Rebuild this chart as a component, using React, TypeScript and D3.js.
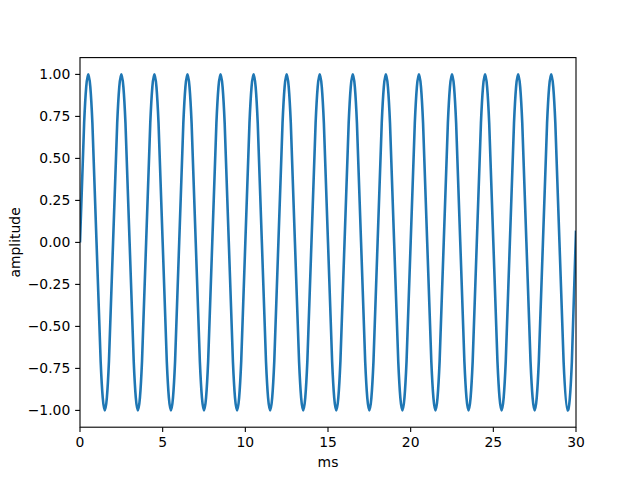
import React from "react";
import * as d3 from "d3";

// sample times in ms (every 0.25 ms)
const times = [
  0, 0.25, 0.5, 0.75, 1, 1.25, 1.5, 1.75, 2, 2.25, 2.5, 2.75, 3, 3.25, 3.5, 3.75,
  4, 4.25, 4.5, 4.75, 5, 5.25, 5.5, 5.75, 6, 6.25, 6.5, 6.75, 7, 7.25, 7.5, 7.75,
  8, 8.25, 8.5, 8.75, 9, 9.25, 9.5, 9.75, 10, 10.25, 10.5, 10.75, 11, 11.25, 11.5, 11.75,
  12, 12.25, 12.5, 12.75, 13, 13.25, 13.5, 13.75, 14, 14.25, 14.5, 14.75, 15, 15.25, 15.5, 15.75,
  16, 16.25, 16.5, 16.75, 17, 17.25, 17.5, 17.75, 18, 18.25, 18.5, 18.75, 19, 19.25, 19.5, 19.75,
  20, 20.25, 20.5, 20.75, 21, 21.25, 21.5, 21.75, 22, 22.25, 22.5, 22.75, 23, 23.25, 23.5, 23.75,
  24, 24.25, 24.5, 24.75, 25, 25.25, 25.5, 25.75, 26, 26.25, 26.5, 26.75, 27, 27.25, 27.5, 27.75,
  28, 28.25, 28.5, 28.75, 29, 29.25, 29.5, 29.75, 30,
];
const amplitude = [
  0, 0.71, 1, 0.71, 0, -0.71, -1, -0.71, 0, 0.71, 1, 0.71, 0, -0.71, -1, -0.71,
  0, 0.71, 1, 0.71, 0, -0.71, -1, -0.71, 0, 0.71, 1, 0.71, 0, -0.71, -1, -0.71,
  0, 0.71, 1, 0.71, 0, -0.71, -1, -0.71, 0, 0.71, 1, 0.71, 0, -0.71, -1, -0.71,
  0, 0.71, 1, 0.71, 0, -0.71, -1, -0.71, 0, 0.71, 1, 0.71, 0, -0.71, -1, -0.71,
  0, 0.71, 1, 0.71, 0, -0.71, -1, -0.71, 0, 0.71, 1, 0.71, 0, -0.71, -1, -0.71,
  0, 0.71, 1, 0.71, 0, -0.71, -1, -0.71, 0, 0.71, 1, 0.71, 0, -0.71, -1, -0.71,
  0, 0.71, 1, 0.71, 0, -0.71, -1, -0.71, 0, 0.71, 1, 0.71, 0, -0.71, -1, -0.71,
  0, 0.71, 1, 0.71, 0, -0.71, -1, -0.71, 0.07,
];
const xTicks = [0, 5, 10, 15, 20, 25, 30];
const yTicks = [-1, -0.75, -0.5, -0.25, 0, 0.25, 0.5, 0.75, 1];
const xLabel = "ms";
const yLabel = "amplitude";

export default function App() {
  const W = 640, H = 480;
  const L = 80, R = 576, T = 57.6, B = 427.2;
  const x = d3.scaleLinear().domain([0, 30]).range([L, R]);
  const y = d3.scaleLinear().domain([-1.1, 1.1]).range([B, T]);
  const pts = times.map((t, i) => [t, amplitude[i]] as [number, number]);
  const line = d3
    .line<[number, number]>()
    .x((d) => x(d[0]))
    .y((d) => y(d[1]))
    .curve(d3.curveNatural);
  const fmt = (v: number) => {
    const s = Math.abs(v).toFixed(2);
    return v < 0 ? "\u2212" + s : s;
  };
  const font = "DejaVu Sans, sans-serif";
  const fs = 13.9;
  const tick = 4.86;
  return (
    <svg
      width={W}
      height={H}
      style={{ position: "absolute", left: 0, top: 0, background: "#fff" }}
      fontFamily={font}
    >
      <rect x={0} y={0} width={W} height={H} fill="#fff" />
      <defs>
        <clipPath id="clip">
          <rect x={L} y={T} width={R - L} height={B - T} />
        </clipPath>
      </defs>
      <path
        d={line(pts) || ""}
        fill="none"
        stroke="#1f77b4"
        strokeWidth={2.6}
        strokeLinejoin="round"
        strokeLinecap="butt"
        clipPath="url(#clip)"
      />
      <rect x={L} y={T} width={R - L} height={B - T} fill="none" stroke="#000" strokeWidth={1.1} />
      {xTicks.map((t) => (
        <g key={"x" + t}>
          <line x1={x(t)} x2={x(t)} y1={B} y2={B + tick} stroke="#000" strokeWidth={1.1} />
          <text x={x(t)} y={B + tick + 4.86} dy="0.76em" textAnchor="middle" fontSize={fs} fill="#000">
            {t}
          </text>
        </g>
      ))}
      {yTicks.map((t) => (
        <g key={"y" + t}>
          <line x1={L - tick} x2={L} y1={y(t)} y2={y(t)} stroke="#000" strokeWidth={1.1} />
          <text x={L - tick - 4.86} y={y(t)} dy="0.35em" textAnchor="end" fontSize={fs} fill="#000">
            {fmt(t)}
          </text>
        </g>
      ))}
      <text x={(L + R) / 2} y={467} textAnchor="middle" fontSize={fs} fill="#000">
        {xLabel}
      </text>
      <text
        transform={`translate(19.5, ${(T + B) / 2}) rotate(-90)`}
        textAnchor="middle"
        fontSize={fs}
        fill="#000"
      >
        {yLabel}
      </text>
    </svg>
  );
}
